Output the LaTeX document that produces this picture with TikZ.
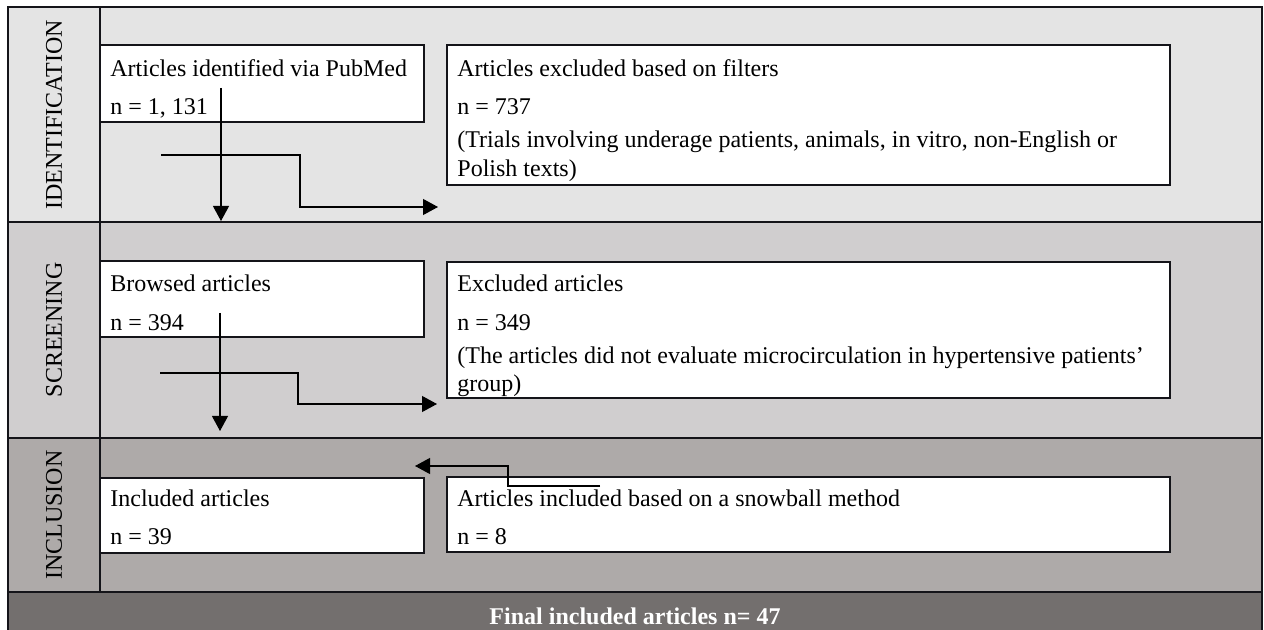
\documentclass[tikz,border=0pt]{standalone}
\usepackage{fontspec}
\setmainfont{Liberation Serif}
\usetikzlibrary{arrows.meta}
\definecolor{idfill}{RGB}{228,228,228}
\definecolor{scfill}{RGB}{208,206,207}
\definecolor{infill}{RGB}{174,170,169}
\definecolor{finfill}{RGB}{115,111,110}
\definecolor{edge}{RGB}{20,20,25}
\begin{document}
\begin{tikzpicture}[x=0.5pt,y=-0.5pt,
  frame/.style={draw=edge,line width=1.1pt},
  box/.style={draw=edge,line width=1.1pt,fill=white,inner sep=0pt,rectangle},
  narrowbox/.style={box,minimum width=162pt},
  widebox/.style={box,minimum width=361.5pt},
  txt/.style={anchor=base west,inner sep=0pt,font=\fontsize{12}{14}\selectfont},
  lab/.style={rotate=90,inner sep=0pt,font=\fontsize{12}{14}\selectfont},
  arr/.style={draw=black,line width=0.55pt,-{Triangle[length=7.5pt,width=8pt]}}]
\useasboundingbox (0,0) rectangle (1264,630);
% section backgrounds
\fill[idfill] (8,7) rectangle (1262,222);
\fill[scfill] (8,222) rectangle (1262,438);
\fill[infill] (8,438) rectangle (1262,592);
\fill[finfill] (8,592) rectangle (1262,630);
% frame lines
\draw[frame] (8,632) -- (8,7) -- (1262,7) -- (1262,632);
\draw[frame] (8,222) -- (1262,222);
\draw[frame] (8,438) -- (1262,438);
\draw[frame] (8,592) -- (1262,592);
\draw[frame] (100,7) -- (100,592);
% stage labels
\node[lab] (lid) at (54,115) {IDENTIFICATION};
\node[lab] (lsc) at (54,330) {SCREENING};
\node[lab] (lin) at (54,515) {INCLUSION};
% boxes
\node[narrowbox,minimum height=38.5pt] (A) at (262,83.5) {};
\node[widebox,minimum height=70pt] (B) at (808.5,115) {};
\node[narrowbox,minimum height=38pt] (C) at (262,299) {};
\node[widebox,minimum height=68pt] (D) at (808.5,330) {};
\node[narrowbox,minimum height=37.5pt] (E) at (262,515.5) {};
\node[widebox,minimum height=37.5pt] (F) at (808.5,514.5) {};
% texts
\node[txt] (A1) at (110,77) {Articles identified via PubMed};
\node[txt] (A2) at (110,115) {n = 1, 131};
\node[txt] (B1) at (457,77) {Articles excluded based on filters};
\node[txt] (B2) at (457,115) {n = 737};
\node[txt] (B3) at (457,148) {(Trials involving underage patients, animals, in vitro, non-English or};
\node[txt] (B4) at (457,177) {Polish texts)};
\node[txt] (C1) at (110,292) {Browsed articles};
\node[txt] (C2) at (110,331) {n = 394};
\node[txt] (D1) at (457,292) {Excluded articles};
\node[txt] (D2) at (457,331) {n = 349};
\node[txt] (D3) at (457,364) {(The articles did not evaluate microcirculation in hypertensive patients'};
\node[txt] (D4) at (457,392) {group)};
\node[txt] (E1) at (110,507) {Included articles};
\node[txt] (E2) at (110,545) {n = 39};
\node[txt] (F1) at (457,507) {Articles included based on a snowball method};
\node[txt] (F2) at (457,545) {n = 8};
\node[anchor=base,inner sep=0pt,text=white,font=\fontsize{12}{14}\selectfont\bfseries] (fin) at (635,624) {Final included articles n= 47};
% connectors
\coordinate (a1s) at (221,88);
\coordinate (a1e) at (221,221);
\draw[arr] (a1s) -- (a1e);
\coordinate (e1s) at (161,155);
\coordinate (e1e) at (438,207);
\draw[arr] (e1s) -- (300,155) |- (e1e);
\coordinate (a2s) at (220,313);
\coordinate (a2e) at (220,431);
\draw[arr] (a2s) -- (a2e);
\coordinate (e2s) at (160,373);
\coordinate (e2e) at (437,404);
\draw[arr] (e2s) -- (298,373) |- (e2e);
\coordinate (e3s) at (600,486);
\coordinate (e3e) at (415,466);
\draw[arr] (e3s) -- (508,486) |- (e3e);
\end{tikzpicture}
\end{document}
